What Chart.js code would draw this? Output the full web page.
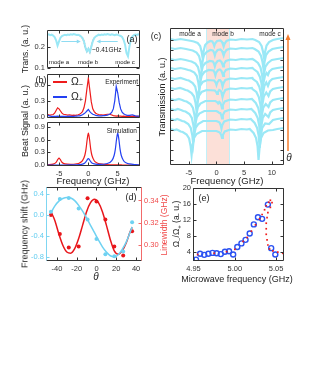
<!DOCTYPE html>
<html lang="en">
<head>
<meta charset="UTF-8">
<title>Mode splitting figure</title>
<script src="https://cdn.jsdelivr.net/npm/chart.js"></script>
<style>
  body { margin: 0; background: #fff; font-family: "Liberation Sans", Arial, sans-serif; }
  #fig { position: relative; width: 332px; height: 392px; overflow: hidden; }
  #fig canvas { position: absolute; left: 0; top: 0; z-index: 1; }
  .lbl { position: absolute; z-index: 2; transform: translate(-50%, -50%); white-space: nowrap; color: #222; line-height: 1; }
  .rot { transform: translate(-50%, -50%) rotate(-90deg); }
  .left { transform: translate(0, -50%); }
  .right { transform: translate(-100%, -50%); }
  .seg { position: absolute; z-index: 2; height: 1.5px; }
  sub { font-size: 70%; vertical-align: -0.3em; line-height: 0; }
</style>
</head>
<body>
<div id="fig">
  <!-- panel (a) / (b) -->
  <div class="lbl rot" style="left:25px; top:49px; font-size:8.5px;">Trans. (a. u.)</div>
  <div class="lbl" style="left:132px; top:39px; font-size:9px;">(a)</div>
  <div class="lbl" style="left:59px; top:62px; font-size:6px;">mode a</div>
  <div class="lbl" style="left:88px; top:62px; font-size:6px;">mode b</div>
  <div class="lbl" style="left:125px; top:62px; font-size:6px;">mode c</div>
  <div class="lbl left" style="left:92px; top:50px; font-size:6.5px;">~0.41GHz</div>
  <div class="lbl" style="left:41px; top:80px; font-size:9px;">(b)</div>
  <div class="seg" style="left:53px; width:14px; top:81px; background:#ee1c1c;"></div>
  <div class="lbl left" style="left:71px; top:81px; font-size:10.5px;">Ω<sub>−</sub></div>
  <div class="seg" style="left:53px; width:14px; top:96px; background:#2340f2;"></div>
  <div class="lbl left" style="left:71px; top:96px; font-size:10.5px;">Ω<sub>+</sub></div>
  <div class="lbl right" style="left:138px; top:82px; font-size:6.5px;">Experiment</div>
  <div class="lbl right" style="left:137px; top:131px; font-size:6.5px;">Simulation</div>
  <div class="lbl rot" style="left:25px; top:121px; font-size:9px;">Beat Signal (a. u.)</div>
  <div class="lbl" style="left:93px; top:181px; font-size:9.5px;">Frequency (GHz)</div>
  <!-- panel (c) -->
  <div class="lbl" style="left:156px; top:36px; font-size:9px;">(c)</div>
  <div class="lbl rot" style="left:162px; top:97px; font-size:9px;">Transmission (a. u.)</div>
  <div class="lbl" style="left:190px; top:34px; font-size:6.5px;">mode a</div>
  <div class="lbl" style="left:223px; top:34px; font-size:6.5px;">mode b</div>
  <div class="lbl" style="left:270px; top:34px; font-size:6.5px;">mode c</div>
  <div class="lbl" style="left:289px; top:158px; font-size:10px; font-style:italic;">θ</div>
  <div class="lbl" style="left:227px; top:181px; font-size:9.5px;">Frequency (GHz)</div>
  <!-- panel (d) -->
  <div class="lbl rot" style="left:25px; top:224px; font-size:9px;">Frequency shift (GHz)</div>
  <div class="lbl rot" style="left:164px; top:225px; font-size:8.5px; color:#f04a4a;">Linewidth (GHz)</div>
  <div class="lbl" style="left:131px; top:197px; font-size:9px;">(d)</div>
  <div class="lbl" style="left:96px; top:277px; font-size:10px; font-style:italic;">θ</div>
  <!-- panel (e) -->
  <div class="lbl rot" style="left:176px; top:224px; font-size:8.5px;">Ω<sub>−</sub>/Ω<sub>+</sub> (a. u.)</div>
  <div class="lbl" style="left:204px; top:198px; font-size:9px;">(e)</div>
  <div class="lbl" style="left:237px; top:279px; font-size:9px;">Microwave frequency (GHz)</div>
</div>

<script>
// ---- data: panel (a) and (b) experiment share one frequency grid (GHz)
const freqExp = [-7, -6.75, -6.5, -6.25, -6, -5.75, -5.5, -5.25, -5, -4.75, -4.5, -4.25, -4, -3.75, -3.5, -3.25,
  -3, -2.75, -2.5, -2.25, -2, -1.75, -1.5, -1.25, -1, -0.75, -0.5, -0.25, 0, 0.25, 0.5, 0.75,
  1, 1.25, 1.5, 1.75, 2, 2.25, 2.5, 2.75, 3, 3.25, 3.5, 3.75, 4, 4.25, 4.5, 4.75,
  5, 5.25, 5.5, 5.75, 6, 6.25, 6.5, 6.75, 7, 7.25, 7.5, 7.75, 8, 8.25, 8.5, 8.75];

const transA = [0.255, 0.258, 0.254, 0.256, 0.252, 0.245, 0.23, 0.205, 0.225, 0.242, 0.25, 0.253, 0.256, 0.254, 0.257, 0.255,
  0.258, 0.256, 0.259, 0.257, 0.255, 0.256, 0.253, 0.248, 0.24, 0.225, 0.195, 0.178, 0.19, 0.175, 0.2, 0.225,
  0.24, 0.248, 0.252, 0.256, 0.254, 0.257, 0.255, 0.258, 0.256, 0.259, 0.257, 0.255, 0.258, 0.256, 0.254, 0.257,
  0.255, 0.253, 0.25, 0.245, 0.232, 0.21, 0.17, 0.155, 0.2, 0.235, 0.248, 0.254, 0.257, 0.255, 0.258, 0.256];

// doublet of mode b, drawn dotted red
const modeBFreq = [-1.5, -1.25, -1, -0.75, -0.5, -0.25, 0, 0.25, 0.5, 0.75, 1];
const modeBTrans = [0.253, 0.248, 0.24, 0.225, 0.195, 0.178, 0.19, 0.175, 0.2, 0.225, 0.24];

const omegaMinusExp = [0.05, 0.04, 0.035, 0.04, 0.045, 0.07, 0.12, 0.17, 0.15, 0.11, 0.07, 0.05, 0.045, 0.04, 0.035, 0.04,
  0.035, 0.03, 0.035, 0.03, 0.035, 0.04, 0.05, 0.07, 0.1, 0.17, 0.3, 0.52, 0.72, 0.5, 0.28, 0.15,
  0.1, 0.07, 0.055, 0.045, 0.04, 0.04, 0.035, 0.04, 0.045, 0.05, 0.05, 0.045, 0.035, 0.025, 0.02, 0.015,
  0.02, 0.015, 0.015, 0.01, 0.015, 0.01, 0.01, 0.015, 0.01, 0.01, 0.015, 0.01, 0.01, 0.01, 0.01, 0.01];

const omegaPlusExp = [0.03, 0.025, 0.015, 0.01, 0.01, 0.01, 0.01, 0.015, 0.01, 0.01, 0.01, 0.01, 0.01, 0.01, 0.01, 0.015,
  0.01, 0.01, 0.01, 0.015, 0.015, 0.02, 0.02, 0.03, 0.04, 0.06, 0.08, 0.11, 0.14, 0.1, 0.07, 0.05,
  0.04, 0.03, 0.025, 0.02, 0.02, 0.02, 0.025, 0.025, 0.03, 0.035, 0.045, 0.06, 0.09, 0.15, 0.3, 0.57,
  0.45, 0.27, 0.15, 0.09, 0.06, 0.045, 0.035, 0.03, 0.03, 0.035, 0.04, 0.03, 0.02, 0.015, 0.015, 0.01];

// ---- data: panel (b) simulation
const freqSim = [-7, -6, -5.5, -5.2, -5, -4.8, -4.5, -4, -3, -2, -1.5, -1, -0.6, -0.4, -0.2, 0, 0.2, 0.4,
  0.6, 1, 1.5, 2, 3, 4, 4.4, 4.6, 4.8, 5, 5.2, 5.4, 5.6, 6, 6.5, 7, 8, 8.8];
const omegaMinusSim = [0.009, 0.025, 0.066, 0.133, 0.165, 0.133, 0.068, 0.029, 0.019, 0.032, 0.052, 0.105, 0.231, 0.375, 0.6, 0.75, 0.6, 0.375,
  0.231, 0.104, 0.05, 0.029, 0.013, 0.0075, 0.006, 0.006, 0.005, 0.005, 0.005, 0.004, 0.004, 0.003, 0.003, 0.002, 0.002, 0.0015];
const omegaPlusSim = [0.001, 0.002, 0.002, 0.002, 0.002, 0.002, 0.003, 0.003, 0.005, 0.008, 0.013, 0.024, 0.05, 0.08, 0.125, 0.155, 0.125, 0.081,
  0.052, 0.028, 0.02, 0.019, 0.032, 0.105, 0.231, 0.375, 0.6, 0.75, 0.6, 0.375, 0.231, 0.104, 0.05, 0.029, 0.013, 0.008];

// ---- data: panel (c) stacked transmission traces, [GHz, offset a.u.], top to bottom
const cTraces = [
  [[-8.4,12.6],[-7.5,12.5],[-6.5,12.6],[-5.5,12.5],[-4.5,12.4],[-4.1,12.35],[-3.4,12.2],[-2.95,11.9],[-2.68,11.3],[-2.5,10.7],[-2.32,11.4],[-2.05,12.0],[-1.6,12.25],[-1.1,12.4],[-0.75,12.35],[-0.55,12.15],[-0.4,11.9],[-0.25,12.15],[0.1,12.4],[0.7,12.45],[1.0,12.3],[1.15,12.1],[1.3,11.85],[1.45,12.1],[1.8,12.4],[2.5,12.55],[3.5,12.5],[4.5,12.6],[5.5,12.55],[6.5,12.6],[7.0,12.5],[7.7,12.3],[8.15,11.9],[8.42,11.3],[8.6,10.7],[8.78,11.3],[9.05,11.95],[9.5,12.3],[10.2,12.5],[11,12.6],[12.2,12.7]],
  [[-8.4,11.7],[-7.5,11.6],[-6.5,11.7],[-5.5,11.6],[-4.7,11.5],[-4.3,11.45],[-3.6,11.25],[-3.15,10.9],[-2.88,10.3],[-2.7,9.6],[-2.52,10.4],[-2.25,11.0],[-1.8,11.3],[-1.1,11.5],[-0.65,11.45],[-0.45,11.25],[-0.3,10.95],[-0.15,11.25],[0.2,11.5],[0.7,11.55],[1.0,11.4],[1.15,11.2],[1.3,10.95],[1.45,11.2],[1.8,11.5],[2.5,11.65],[3.5,11.6],[4.5,11.7],[5.5,11.65],[6.5,11.7],[6.9,11.6],[7.6,11.35],[8.05,10.9],[8.32,10.3],[8.5,9.6],[8.68,10.3],[8.95,11.0],[9.4,11.35],[10.1,11.6],[11,11.7],[12.2,11.8]],
  [[-8.4,10.6],[-7.5,10.5],[-6.5,10.6],[-5.6,10.5],[-4.9,10.4],[-4.5,10.35],[-3.8,10.15],[-3.35,9.8],[-3.08,9.2],[-2.9,8.5],[-2.72,9.3],[-2.45,9.9],[-2.0,10.2],[-1.2,10.4],[-0.65,10.35],[-0.45,10.15],[-0.3,9.85],[-0.15,10.15],[0.2,10.4],[0.6,10.45],[0.9,10.3],[1.05,10.1],[1.2,9.85],[1.35,10.1],[1.7,10.4],[2.5,10.55],[3.5,10.5],[4.5,10.6],[5.5,10.55],[6.5,10.6],[6.8,10.5],[7.5,10.2],[7.95,9.75],[8.22,9.1],[8.4,8.3],[8.58,9.1],[8.85,9.85],[9.3,10.2],[10.0,10.5],[11,10.6],[12.2,10.7]],
  [[-8.4,9.7],[-7.5,9.6],[-6.5,9.7],[-5.7,9.6],[-5.1,9.5],[-4.7,9.45],[-4.0,9.25],[-3.55,8.9],[-3.28,8.25],[-3.1,7.5],[-2.92,8.35],[-2.65,8.95],[-2.2,9.3],[-1.4,9.5],[-0.55,9.45],[-0.35,9.25],[-0.2,8.95],[-0.05,9.25],[0.3,9.5],[0.6,9.55],[0.9,9.4],[1.05,9.2],[1.2,8.9],[1.35,9.2],[1.7,9.5],[2.5,9.65],[3.5,9.6],[4.5,9.7],[5.5,9.65],[6.5,9.7],[6.7,9.6],[7.4,9.3],[7.85,8.8],[8.12,8.2],[8.3,7.3],[8.48,8.2],[8.75,8.9],[9.05,9.2],[9.3,9.0],[9.55,9.35],[10.1,9.6],[11,9.7],[12.2,9.8]],
  [[-8.4,8.7],[-7.5,8.6],[-6.5,8.7],[-5.9,8.6],[-5.4,8.5],[-5.0,8.45],[-4.3,8.2],[-3.85,7.85],[-3.58,7.2],[-3.4,6.4],[-3.22,7.3],[-2.95,7.95],[-2.5,8.3],[-1.6,8.5],[-0.4,8.45],[-0.15,8.25],[0.0,8.0],[0.15,8.25],[0.45,8.5],[0.65,8.5],[0.85,8.35],[0.97,8.15],[1.1,7.85],[1.25,8.15],[1.6,8.5],[2.5,8.65],[3.5,8.6],[4.5,8.7],[5.5,8.65],[6.5,8.7],[6.6,8.6],[7.3,8.3],[7.75,7.8],[8.02,7.2],[8.2,6.2],[8.38,7.1],[8.65,7.9],[9.0,8.25],[9.3,7.9],[9.6,8.35],[10.1,8.6],[11,8.7],[12.2,8.8]],
  [[-8.4,7.7],[-7.5,7.6],[-6.6,7.7],[-6.0,7.6],[-5.6,7.5],[-5.2,7.45],[-4.5,7.2],[-4.05,6.85],[-3.78,6.2],[-3.6,5.4],[-3.42,6.3],[-3.15,6.95],[-2.7,7.3],[-1.8,7.5],[-0.3,7.45],[-0.05,7.3],[0.1,7.1],[0.25,7.3],[0.5,7.5],[0.7,7.45],[0.88,7.3],[0.98,7.05],[1.1,6.8],[1.25,7.1],[1.6,7.5],[2.5,7.65],[3.5,7.6],[4.5,7.7],[5.5,7.65],[6.4,7.7],[6.5,7.6],[7.2,7.3],[7.65,6.8],[7.92,6.1],[8.1,5.1],[8.28,6.0],[8.55,6.85],[9.0,7.25],[9.4,6.9],[9.7,7.35],[10.2,7.6],[11,7.7],[12.2,7.8]],
  [[-8.4,6.6],[-7.5,6.5],[-6.8,6.6],[-6.2,6.5],[-5.8,6.4],[-5.4,6.35],[-4.7,6.1],[-4.25,5.7],[-3.98,5.0],[-3.8,4.2],[-3.62,5.1],[-3.35,5.8],[-2.9,6.15],[-2.0,6.4],[-0.2,6.4],[0.1,6.3],[0.3,6.15],[0.5,6.3],[0.7,6.2],[0.88,5.95],[1.0,5.65],[1.15,6.0],[1.5,6.35],[2.5,6.55],[3.5,6.5],[4.5,6.6],[5.5,6.55],[6.4,6.6],[7.1,6.2],[7.55,5.7],[7.82,5.0],[8.0,3.9],[8.18,4.9],[8.45,5.75],[8.9,6.1],[9.4,5.8],[9.7,6.25],[10.2,6.5],[11,6.6],[12.2,6.7]],
  [[-8.4,5.6],[-7.5,5.5],[-7.0,5.6],[-6.4,5.5],[-6.0,5.4],[-5.6,5.35],[-4.9,5.1],[-4.45,4.7],[-4.18,4.0],[-4.0,3.2],[-3.82,4.1],[-3.55,4.8],[-3.1,5.15],[-2.2,5.4],[0.0,5.4],[0.3,5.3],[0.5,5.2],[0.7,5.2],[0.88,4.95],[1.0,4.65],[1.15,5.0],[1.5,5.35],[2.5,5.55],[3.5,5.5],[4.5,5.6],[5.5,5.55],[6.3,5.6],[7.0,5.2],[7.45,4.7],[7.72,3.95],[7.9,2.8],[8.08,3.8],[8.35,4.7],[8.8,5.1],[9.4,4.8],[9.7,5.25],[10.2,5.5],[11,5.6],[12.2,5.7]],
  [[-8.4,4.6],[-7.5,4.5],[-7.1,4.6],[-6.6,4.5],[-6.2,4.4],[-5.8,4.35],[-5.1,4.1],[-4.65,3.7],[-4.38,3.0],[-4.2,2.1],[-4.02,3.05],[-3.75,3.75],[-3.3,4.1],[-2.4,4.4],[0.0,4.4],[0.4,4.3],[0.6,4.2],[0.78,3.95],[0.9,3.65],[1.05,4.0],[1.4,4.35],[2.5,4.55],[3.5,4.5],[4.5,4.6],[5.5,4.55],[6.2,4.6],[6.9,4.2],[7.35,3.7],[7.62,2.95],[7.8,1.7],[7.98,2.8],[8.25,3.7],[8.8,4.15],[9.5,4.1],[10.2,4.5],[11,4.6],[12.2,4.7]],
  [[-8.4,3.6],[-7.6,3.5],[-7.2,3.55],[-6.8,3.45],[-6.5,3.35],[-6.1,3.3],[-5.4,3.05],[-4.95,2.65],[-4.68,1.9],[-4.5,1.0],[-4.32,2.0],[-4.05,2.7],[-3.6,3.1],[-2.6,3.4],[0.0,3.4],[0.4,3.3],[0.6,3.25],[0.85,3.0],[1.0,2.7],[1.15,3.0],[1.5,3.35],[2.5,3.55],[3.5,3.5],[4.5,3.6],[5.5,3.55],[6.0,3.6],[6.7,3.2],[7.15,2.7],[7.42,1.9],[7.6,0.5],[7.78,1.7],[8.05,2.7],[8.5,3.2],[9.3,3.45],[10.2,3.5],[11,3.6],[12.2,3.7]]
];
const modeBBand = [-1.9, 2.3];   // shaded mode b window (GHz)

// ---- data: panel (d)
const thetaPts = [-46, -37, -28, -18, -9, 0, 9, 18, 27, 36];
const shiftPts = [0.06, 0.30, 0.32, 0.12, -0.09, -0.46, -0.75, -0.79, -0.70, -0.14];
const widthPts = [0.327, 0.310, 0.298, 0.299, 0.342, 0.339, 0.323, 0.299, 0.291, 0.3125];
const thetaFit = [-46, -42, -38, -34, -30, -26, -22, -18, -14, -10, -6, -2, 2, 6, 10, 14, 18, 22, 26, 30, 34, 36];
const shiftFit = [0.04, 0.17, 0.26, 0.31, 0.33, 0.32, 0.27, 0.18, 0.07, -0.06, -0.2, -0.34, -0.48, -0.61, -0.71, -0.78, -0.80, -0.76, -0.66, -0.52, -0.33, -0.23];
const widthFit = [0.330, 0.322, 0.310, 0.300, 0.294, 0.293, 0.297, 0.306, 0.318, 0.330, 0.338, 0.341, 0.338, 0.330, 0.318, 0.305, 0.295, 0.292, 0.295, 0.302, 0.312, 0.316];

// ---- data: panel (e)
const mwFreqExp = [4.948, 4.953, 4.958, 4.963, 4.968, 4.973, 4.978, 4.983, 4.988, 4.993, 4.998, 5.003, 5.008, 5.013, 5.018, 5.023, 5.028, 5.033, 5.040, 5.044, 5.049];
const ratioExp = [2.2, 2.0, 3.5, 3.2, 3.5, 3.7, 3.6, 3.4, 4.0, 4.1, 3.3, 5.2, 6.1, 7.0, 8.6, 10.9, 12.7, 12.3, 15.9, 4.9, 3.3];
const mwFreqSim = [4.955, 4.975, 4.990, 5.000, 5.010, 5.015, 5.020, 5.025, 5.030, 5.033, 5.036, 5.038, 5.041, 5.043, 5.045, 5.043, 5.040, 5.039, 5.038, 5.038, 5.038, 5.039, 5.040, 5.042, 5.046, 5.052, 5.058];
const ratioSim = [3.3, 3.6, 4.0, 4.6, 6.6, 7.6, 9.2, 10.8, 12.3, 13.4, 14.6, 15.6, 16.5, 17.0, 16.4, 15.2, 13.9, 12.6, 11.2, 9.8, 8.4, 7.0, 5.7, 4.7, 4.2, 3.9, 3.6];

// ---- ticks
const ticksGHz = [-5, 0, 5];
const ticksC = [-5, 0, 5, 10];
const ticksTheta = [-40, -20, 0, 20, 40];
const ticksMw = [4.95, 5.00, 5.05];

Chart.defaults.font.family = '"Liberation Sans", Arial, sans-serif';
Chart.defaults.font.size = 7.5;
Chart.defaults.color = '#333';

const W = 332, H = 392;
const AX = 30, AXH = 14;   // room kept for tick labels (labels are clipped to the axis box)
const CYAN = '#9ae8f6', RED = '#ee1c1c', BLUE = '#2340f2';
const fig = document.getElementById('fig');

// box frame with inward ticks on every side
const framePlugin = {
  id: 'frame',
  afterDatasetsDraw(chart, args, o) {
    const { ctx, chartArea: a } = chart;
    const L = 3;
    const l = Math.round(a.left) + 0.5, r = Math.round(a.right) - 0.5;
    const t = Math.round(a.top) + 0.5, b = Math.round(a.bottom) - 0.5;
    ctx.save();
    ctx.lineWidth = 1;
    const xs = chart.scales.x, ys = chart.scales.y, y2 = chart.scales.y2;
    ctx.strokeStyle = '#333';
    ctx.beginPath();
    xs.ticks.forEach(tk => {
      const p = Math.round(xs.getPixelForValue(tk.value)) + 0.5;
      ctx.moveTo(p, b); ctx.lineTo(p, b - L);
      ctx.moveTo(p, t); ctx.lineTo(p, t + L);
    });
    ctx.moveTo(l, t); ctx.lineTo(r, t);
    ctx.moveTo(l, b); ctx.lineTo(r, b);
    ctx.stroke();
    ctx.strokeStyle = o.left || '#333';
    ctx.beginPath();
    ys.ticks.forEach(tk => {
      const p = Math.round(ys.getPixelForValue(tk.value)) + 0.5;
      ctx.moveTo(l, p); ctx.lineTo(l + L, p);
      if (!y2) { ctx.moveTo(r, p); ctx.lineTo(r - L, p); }
    });
    ctx.moveTo(l, t); ctx.lineTo(l, b);
    if (!y2) { ctx.moveTo(r, t); ctx.lineTo(r, b); }
    ctx.stroke();
    if (y2) {
      ctx.strokeStyle = o.right || '#333';
      ctx.beginPath();
      y2.ticks.forEach(tk => {
        const p = Math.round(y2.getPixelForValue(tk.value)) + 0.5;
        ctx.moveTo(r, p); ctx.lineTo(r - L, p);
      });
      ctx.moveTo(r, t); ctx.lineTo(r, b);
      ctx.stroke();
    }
    ctx.restore();
  }
};

// pink window of mode b in panel (c)
const shadePlugin = {
  id: 'shade',
  beforeDatasetsDraw(chart) {
    const { ctx, chartArea: a, scales: { x } } = chart;
    const x0 = Math.round(x.getPixelForValue(modeBBand[0])), x1 = Math.round(x.getPixelForValue(modeBBand[1]));
    ctx.save();
    ctx.fillStyle = '#fce0d8';
    ctx.fillRect(x0, a.top, x1 - x0, a.bottom - a.top);
    ctx.strokeStyle = '#c2f0f8';
    ctx.lineWidth = 1;
    ctx.beginPath();
    ctx.moveTo(x0 + 0.5, a.top); ctx.lineTo(x0 + 0.5, a.bottom);
    ctx.moveTo(x1 + 0.5, a.top); ctx.lineTo(x1 + 0.5, a.bottom);
    ctx.stroke();
    ctx.restore();
  }
};

// orange theta arrow next to panel (c)
const thetaArrow = {
  id: 'thetaArrow',
  afterDraw(chart) {
    const { ctx, chartArea: a } = chart;
    const x = Math.round(a.right) + 4, y0 = a.top + 6, y1 = a.bottom - 14;
    ctx.save();
    ctx.strokeStyle = ctx.fillStyle = '#f47c2c';
    ctx.lineWidth = 1.5;
    ctx.beginPath(); ctx.moveTo(x, y1); ctx.lineTo(x, y0 + 4); ctx.stroke();
    ctx.beginPath(); ctx.moveTo(x, y0); ctx.lineTo(x - 2.5, y0 + 6); ctx.lineTo(x + 2.5, y0 + 6); ctx.closePath(); ctx.fill();
    ctx.restore();
  }
};

// cyan arrows pointing at the mode b doublet in panel (a)
const splitArrows = {
  id: 'splitArrows',
  afterDatasetsDraw(chart, args, o) {
    const { ctx, scales: { x, y } } = chart;
    ctx.save();
    ctx.strokeStyle = ctx.fillStyle = '#8fdcf2';
    ctx.lineWidth = 1;
    (o.arrows || []).forEach(([f0, f1, v]) => {
      const p0 = x.getPixelForValue(f0), p1 = x.getPixelForValue(f1);
      const py = Math.round(y.getPixelForValue(v)) + 0.5;
      const d = Math.sign(p1 - p0);
      ctx.beginPath(); ctx.moveTo(p0, py); ctx.lineTo(p1 - d * 3, py); ctx.stroke();
      ctx.beginPath(); ctx.moveTo(p1, py); ctx.lineTo(p1 - d * 4, py - 2); ctx.lineTo(p1 - d * 4, py + 2); ctx.closePath(); ctx.fill();
    });
    ctx.restore();
  }
};

function pairs(xs, ys) { return xs.map((x, i) => ({ x, y: ys[i] })); }
function pts(arr) { return arr.map(p => ({ x: p[0], y: p[1] })); }

function axis(min, max, ticks, opt) {
  opt = opt || {};
  const show = opt.labels !== false;
  return {
    type: 'linear', min, max,
    position: opt.position,
    grid: { display: false, drawTicks: false },
    border: { display: false },
    afterBuildTicks: s => { s.ticks = ticks.map(v => ({ value: v })); },
    afterFit: s => {
      if (s.isHorizontal()) s.height = show ? AXH : 0; else s.width = show ? AX : 0;
      s.paddingLeft = s.paddingRight = s.paddingTop = s.paddingBottom = 0;
    },
    ticks: {
      display: show,
      autoSkip: false,
      maxRotation: 0,
      padding: opt.pad || 2,
      color: opt.color || '#333',
      callback: opt.fmt || (v => v)
    }
  };
}

function line(data, color, width, extra) {
  return Object.assign({ data, showLine: true, borderColor: color, backgroundColor: color, borderWidth: width, pointRadius: 0, fill: false }, extra);
}

// box = [left, top, right, bottom] of the plot area in page pixels
function makeChart(box, scales, datasets, pluginOpts, extra) {
  const cv = document.createElement('canvas');
  cv.width = W; cv.height = H;
  cv.style.width = W + 'px'; cv.style.height = H + 'px';
  fig.appendChild(cv);
  const lw = scales.y.ticks.display ? AX : 0;
  const rw = scales.y2 ? AX : 0;
  const bh = scales.x.ticks.display ? AXH : 0;
  return new Chart(cv, {
    type: 'scatter',
    data: { datasets },
    options: {
      responsive: false, animation: false, events: [], devicePixelRatio: 1,
      layout: { padding: { left: box[0] - lw, top: box[1], right: W - box[2] - rw, bottom: H - box[3] - bh } },
      plugins: Object.assign({ legend: { display: false }, tooltip: { enabled: false } }, pluginOpts),
      scales
    },
    plugins: [framePlugin].concat(extra || [])
  });
}

const f1 = v => v.toFixed(1), f2 = v => v.toFixed(2);

// (a) transmission
makeChart([47, 30, 140, 68], {
  x: axis(-7.05, 8.8, ticksGHz, { labels: false }),
  y: axis(0.1, 0.278, [0.1, 0.2], { fmt: f1 })
}, [
  line(pairs(freqExp, transA), CYAN, 2),
  line(pairs(modeBFreq, modeBTrans), RED, 1.3, { borderDash: [1.5, 1.5] })
], { splitArrows: { arrows: [[-4.6, -1.3, 0.228], [5.0, 1.4, 0.228]] } }, [splitArrows]);

// (b) experiment
makeChart([47, 74, 140, 118], {
  x: axis(-7.05, 8.8, ticksGHz, { labels: false }),
  y: axis(-0.02, 0.8, [0, 0.3, 0.6], { fmt: f1 })
}, [
  line(pairs(freqExp, omegaPlusExp), BLUE, 1.2),
  line(pairs(freqExp, omegaMinusExp), RED, 1.2)
]);

// (b) simulation
makeChart([47, 122, 140, 166], {
  x: axis(-7.05, 8.8, ticksGHz, { pad: 3 }),
  y: axis(-0.02, 1.01, [0, 0.3, 0.6, 0.9], { fmt: f1 })
}, [
  line(pairs(freqSim, omegaPlusSim), BLUE, 1.2, { cubicInterpolationMode: 'monotone' }),
  line(pairs(freqSim, omegaMinusSim), RED, 1.2, { cubicInterpolationMode: 'monotone' })
]);

// (c) stacked spectra vs theta
makeChart([170, 28, 284, 165], {
  x: axis(-8.4, 12.2, ticksC, { pad: 3 }),
  y: axis(0, 13.7, [0.5, 1.5, 2.5, 3.5, 4.5, 5.5, 6.5, 7.5, 8.5, 9.5, 10.5, 11.5, 12.5], { labels: false })
}, cTraces.map(t => line(pts(t), CYAN, 2.2)), {}, [shadePlugin, thetaArrow]);

// (d) frequency shift and linewidth vs theta
makeChart([46, 187, 142, 261], {
  x: axis(-51, 46, ticksTheta, { pad: 3 }),
  y: axis(-0.88, 0.53, [-0.8, -0.4, 0, 0.4], { fmt: f1, color: '#62cdf0' }),
  y2: axis(0.286, 0.352, [0.30, 0.32, 0.34], { fmt: f2, color: '#f04a4a', position: 'right' })
}, [
  line(pairs(thetaFit, shiftFit), '#6fd2f2', 1.5, { yAxisID: 'y', cubicInterpolationMode: 'monotone' }),
  { data: pairs(thetaPts, shiftPts), yAxisID: 'y', pointRadius: 2, backgroundColor: '#6fd2f2', borderWidth: 0 },
  line(pairs(thetaFit, widthFit), '#e8161b', 1.5, { yAxisID: 'y2', cubicInterpolationMode: 'monotone' }),
  { data: pairs(thetaPts, widthPts), yAxisID: 'y2', pointRadius: 2, backgroundColor: '#e8161b', borderWidth: 0 }
], { frame: { left: '#7fd6f2', right: '#f26a6a' } });

// (e) sideband ratio vs microwave frequency
makeChart([193, 188, 284, 261], {
  x: axis(4.9494, 5.0595, ticksMw, { fmt: f2, pad: 3 }),
  y: axis(1.65, 20.1, [4, 8, 12, 16, 20])
}, [
  { data: pairs(mwFreqSim, ratioSim), pointStyle: 'rect', pointRadius: 1.2, backgroundColor: '#f01c1c', borderWidth: 0 },
  { data: pairs(mwFreqExp, ratioExp), pointStyle: 'circle', pointRadius: 2.5, borderColor: '#2b52f2', backgroundColor: 'rgba(0,0,0,0)', borderWidth: 1.4 }
]);
</script>
</body>
</html>
